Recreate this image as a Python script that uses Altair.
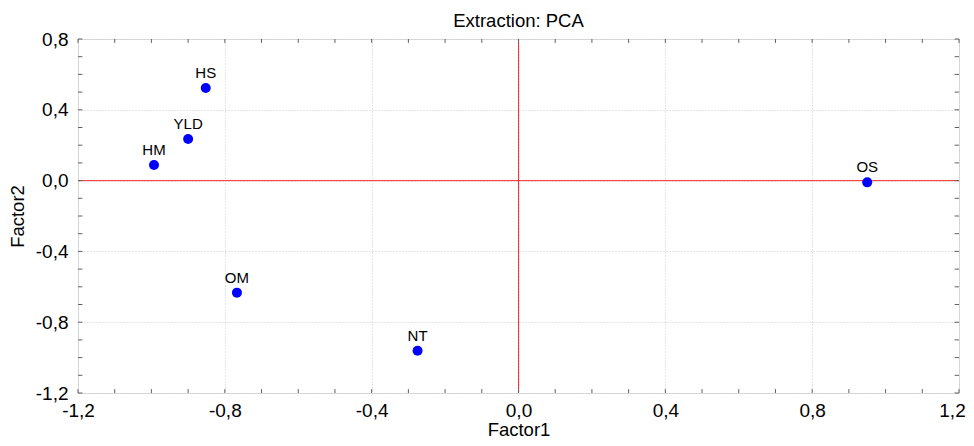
import altair as alt
import pandas as pd

# Data
labels = ["HS", "YLD", "HM", "OM", "NT", "OS"]
factor1 = [-0.852, -0.900, -0.993, -0.767, -0.275, 0.950]
factor2 = [0.523, 0.235, 0.088, -0.633, -0.961, -0.010]

x_ticks = [-1.2, -0.8, -0.4, 0.0, 0.4, 0.8, 1.2]
y_ticks = [-1.2, -0.8, -0.4, 0.0, 0.4, 0.8]
x_minor = [round(-1.2 + 0.1 * i, 2) for i in range(25)]
y_minor = [round(-1.2 + 0.1 * i, 2) for i in range(21)]

X_DOM = [-1.2, 1.2]
Y_DOM = [-1.2, 0.8]
TICK_X = 0.006   # tiny inside tick length (data units, x)
TICK_Y = 0.011   # tiny inside tick length (data units, y)

df = pd.DataFrame({"label": labels, "f1": factor1, "f2": factor2})

xs = alt.Scale(domain=X_DOM, nice=False, zero=False)
ys = alt.Scale(domain=Y_DOM, nice=False, zero=False)

fmt = "replace(replace(format(datum.value, '.1f'), '.', ','), '\u2212', '-')"
FONT = "Liberation Sans"

x_axis = alt.Axis(values=x_ticks, labelExpr=fmt, title="Factor1", domain=False,
                  ticks=False, grid=True, gridColor="#c4c8d8", gridDash=[1, 2],
                  labelFontSize=19, labelFont=FONT, labelColor="#000",
                  labelPadding=8, labelFlush=False,
                  labelOffset=alt.expr("datum.value > 1.1 ? -7 : 0"),
                  titleFontSize=18.5,
                  titleFont=FONT, titleFontWeight="normal", titleColor="#000",
                  titleBaseline="alphabetic", titlePadding=15)
y_axis = alt.Axis(values=y_ticks, labelExpr=fmt, title="Factor2", domain=False,
                  ticks=False, grid=True, gridColor="#c8c8c8", gridDash=[1, 2],
                  labelFontSize=19, labelFont=FONT, labelColor="#000",
                  labelPadding=10, labelFlush=False, titleFontSize=18.5,
                  titleFont=FONT, titleFontWeight="normal", titleColor="#000",
                  titlePadding=8)

base_pts = alt.Chart(df).encode(
    x=alt.X("f1:Q", scale=xs, axis=x_axis),
    y=alt.Y("f2:Q", scale=ys, axis=y_axis),
)

points = base_pts.mark_circle(size=100, color="#0000ff", opacity=1)
texts = base_pts.mark_text(fontSize=15, font=FONT, color="#000", dy=-10,
                           baseline="alphabetic", align="center").encode(text="label:N")

zero_df = pd.DataFrame({"v": [0.0]})
vline = alt.Chart(zero_df).mark_rule(color="#ff3030", strokeWidth=1).encode(
    x=alt.X("v:Q", scale=xs), y=alt.datum(Y_DOM[0]), y2=alt.datum(Y_DOM[1]))
hline = alt.Chart(zero_df).mark_rule(color="#ff3030", strokeWidth=1).encode(
    y=alt.Y("v:Q", scale=ys), x=alt.datum(X_DOM[0]), x2=alt.datum(X_DOM[1]))

# Minor ticks inside the frame
xm = pd.DataFrame({"t": x_minor})
ym = pd.DataFrame({"t": y_minor})
tick_style = dict(color="#606060", strokeWidth=1)
xb = alt.Chart(xm).mark_rule(**tick_style).encode(
    x=alt.X("t:Q", scale=xs), y=alt.datum(Y_DOM[0]), y2=alt.datum(Y_DOM[0] + TICK_Y * 2))
xt = alt.Chart(xm).mark_rule(**tick_style).encode(
    x=alt.X("t:Q", scale=xs), y=alt.datum(Y_DOM[1]), y2=alt.datum(Y_DOM[1] - TICK_Y * 2))
yl = alt.Chart(ym).mark_rule(**tick_style).encode(
    y=alt.Y("t:Q", scale=ys), x=alt.datum(X_DOM[0]), x2=alt.datum(X_DOM[0] + TICK_X * 2))
yr = alt.Chart(ym).mark_rule(**tick_style).encode(
    y=alt.Y("t:Q", scale=ys), x=alt.datum(X_DOM[1]), x2=alt.datum(X_DOM[1] - TICK_X * 2))

chart = alt.layer(hline, vline, xb, xt, yl, yr, points, texts).properties(
    width=881, height=354,
    title=alt.TitleParams("Extraction: PCA", fontSize=18.5, font=FONT,
                          fontWeight="normal", color="#000", anchor="middle",
                          frame="group", baseline="alphabetic", offset=1, dy=16),
    autosize=alt.AutoSizeParams(type="none"),
    padding={"left": 70, "top": 31, "right": 7, "bottom": 46},
).configure_view(stroke="#606060", strokeWidth=1.2).configure(background="white")

chart.save("out.html", embed_options={"renderer": "svg", "actions": False})
